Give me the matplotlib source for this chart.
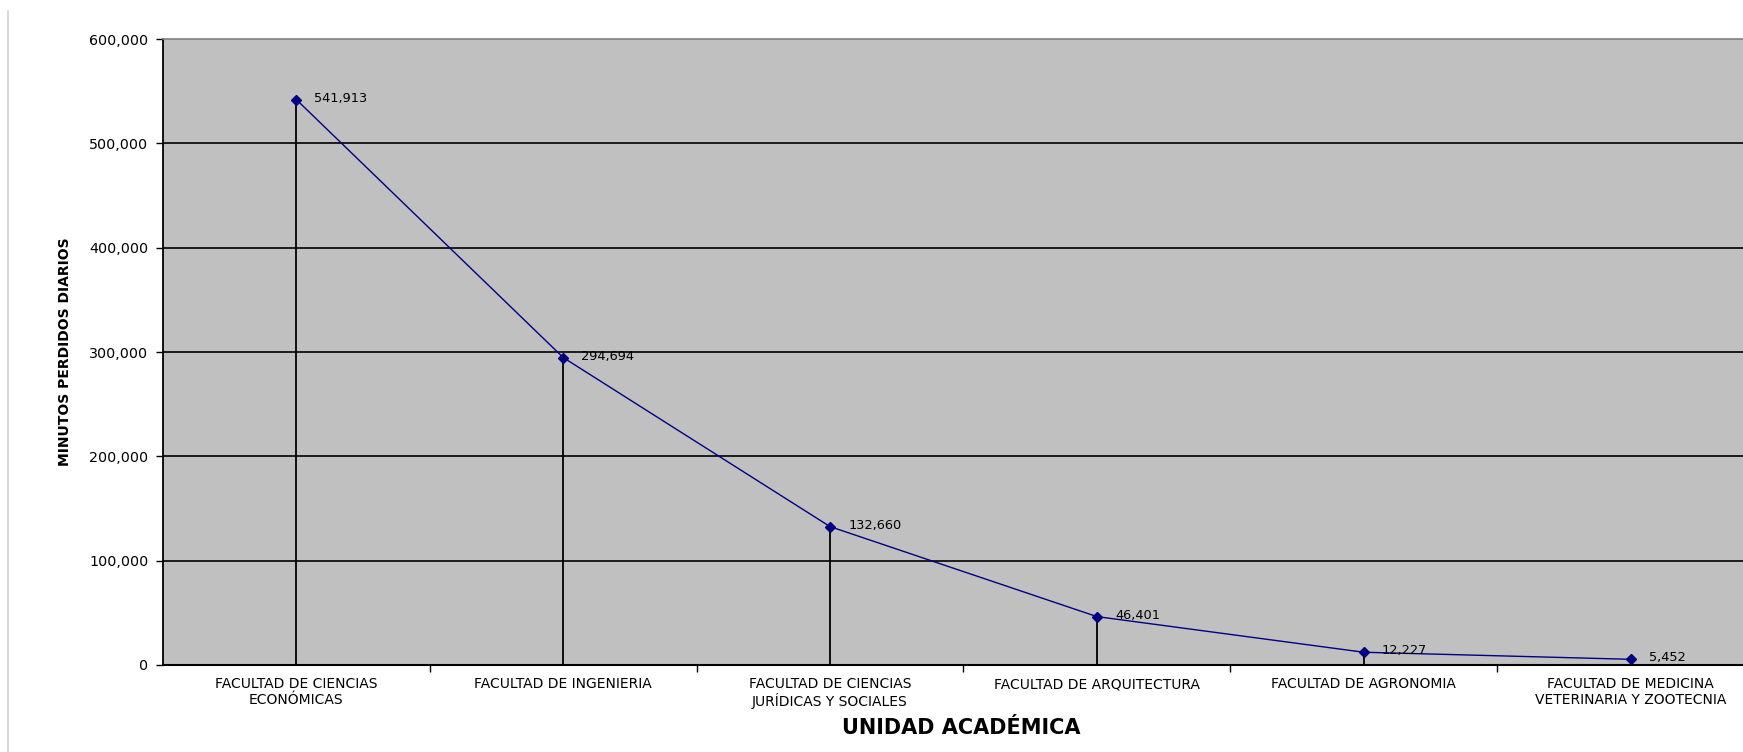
import numpy as np
import matplotlib.pyplot as plt
from matplotlib.lines import Line2D
from matplotlib.ticker import FuncFormatter

# minutos perdidos por unidad academica
unidades = [
    "FACULTAD DE CIENCIAS\nECONÓMICAS",
    "FACULTAD DE INGENIERIA",
    "FACULTAD DE CIENCIAS\nJURÍDICAS Y SOCIALES",
    "FACULTAD DE ARQUITECTURA",
    "FACULTAD DE AGRONOMIA",
    "FACULTAD DE MEDICINA\nVETERINARIA Y ZOOTECNIA",
]
minutos = [541913, 294694, 132660, 46401, 12227, 5452]
y_ticks = [0, 100000, 200000, 300000, 400000, 500000, 600000]

plt.rcParams['font.family'] = ['DejaVu Sans']

fig = plt.figure(figsize=(17.43, 7.52), dpi=100)
ax = fig.add_axes([0.0935, 0.1157, 0.9185, 0.8324])
ax.set_facecolor('#c0c0c0')

x = np.arange(len(unidades))

# gridlines
for yv in y_ticks[1:-1]:
    ax.axhline(yv, color='black', lw=1.2, zorder=1)

# drop lines from each point to zero
ax.vlines(x, 0, minutos, color='black', lw=1.3, zorder=2)

ax.plot(x, minutos, color='#000080', lw=1.0, marker='D', ms=5.5,
        mfc='#000080', mec='#000080', zorder=3)

for xi, v in zip(x, minutos):
    ax.annotate(f"{v:,}", (xi, v), xytext=(13, 1), textcoords='offset points',
                va='center', ha='left', fontsize=9.3, zorder=4)

ax.set_xlim(-0.5, len(unidades) - 0.5)
ax.set_ylim(0, 600000)

ax.set_yticks(y_ticks)
ax.yaxis.set_major_formatter(FuncFormatter(lambda v, p: f"{int(v):,}"))
ax.tick_params(axis='y', direction='out', length=5, width=1, labelsize=10.3, pad=5.5)

# category labels centered, ticks at the boundaries
ax.set_xticks(x)
ax.set_xticklabels(unidades, fontsize=10, linespacing=1.15)
ax.tick_params(axis='x', which='major', length=0, pad=9)
ax.set_xticks(np.arange(0.5, len(unidades) - 0.5), minor=True)
ax.tick_params(axis='x', which='minor', direction='out', length=5, width=1)

ax.spines['top'].set_color('#808080')
ax.spines['top'].set_linewidth(1.2)
ax.spines['left'].set_linewidth(1.3)
ax.spines['bottom'].set_linewidth(1.5)
ax.spines['right'].set_visible(False)

ax.set_ylabel("MINUTOS PERDIDOS DIARIOS", fontsize=10, fontweight='bold')
ax.yaxis.set_label_coords(-0.057, 0.5)
ax.set_xlabel("UNIDAD ACADÉMICA", fontsize=15, fontweight='bold')
ax.xaxis.set_label_coords((961 - 163) / 1601, -0.085)

# thin border at the left edge of the sheet
fig.add_artist(Line2D([0.0045, 0.0045], [0.0, 0.985], color='#d0d0d0', lw=1.2))

fig.savefig("out.png", dpi=100, facecolor='white')
